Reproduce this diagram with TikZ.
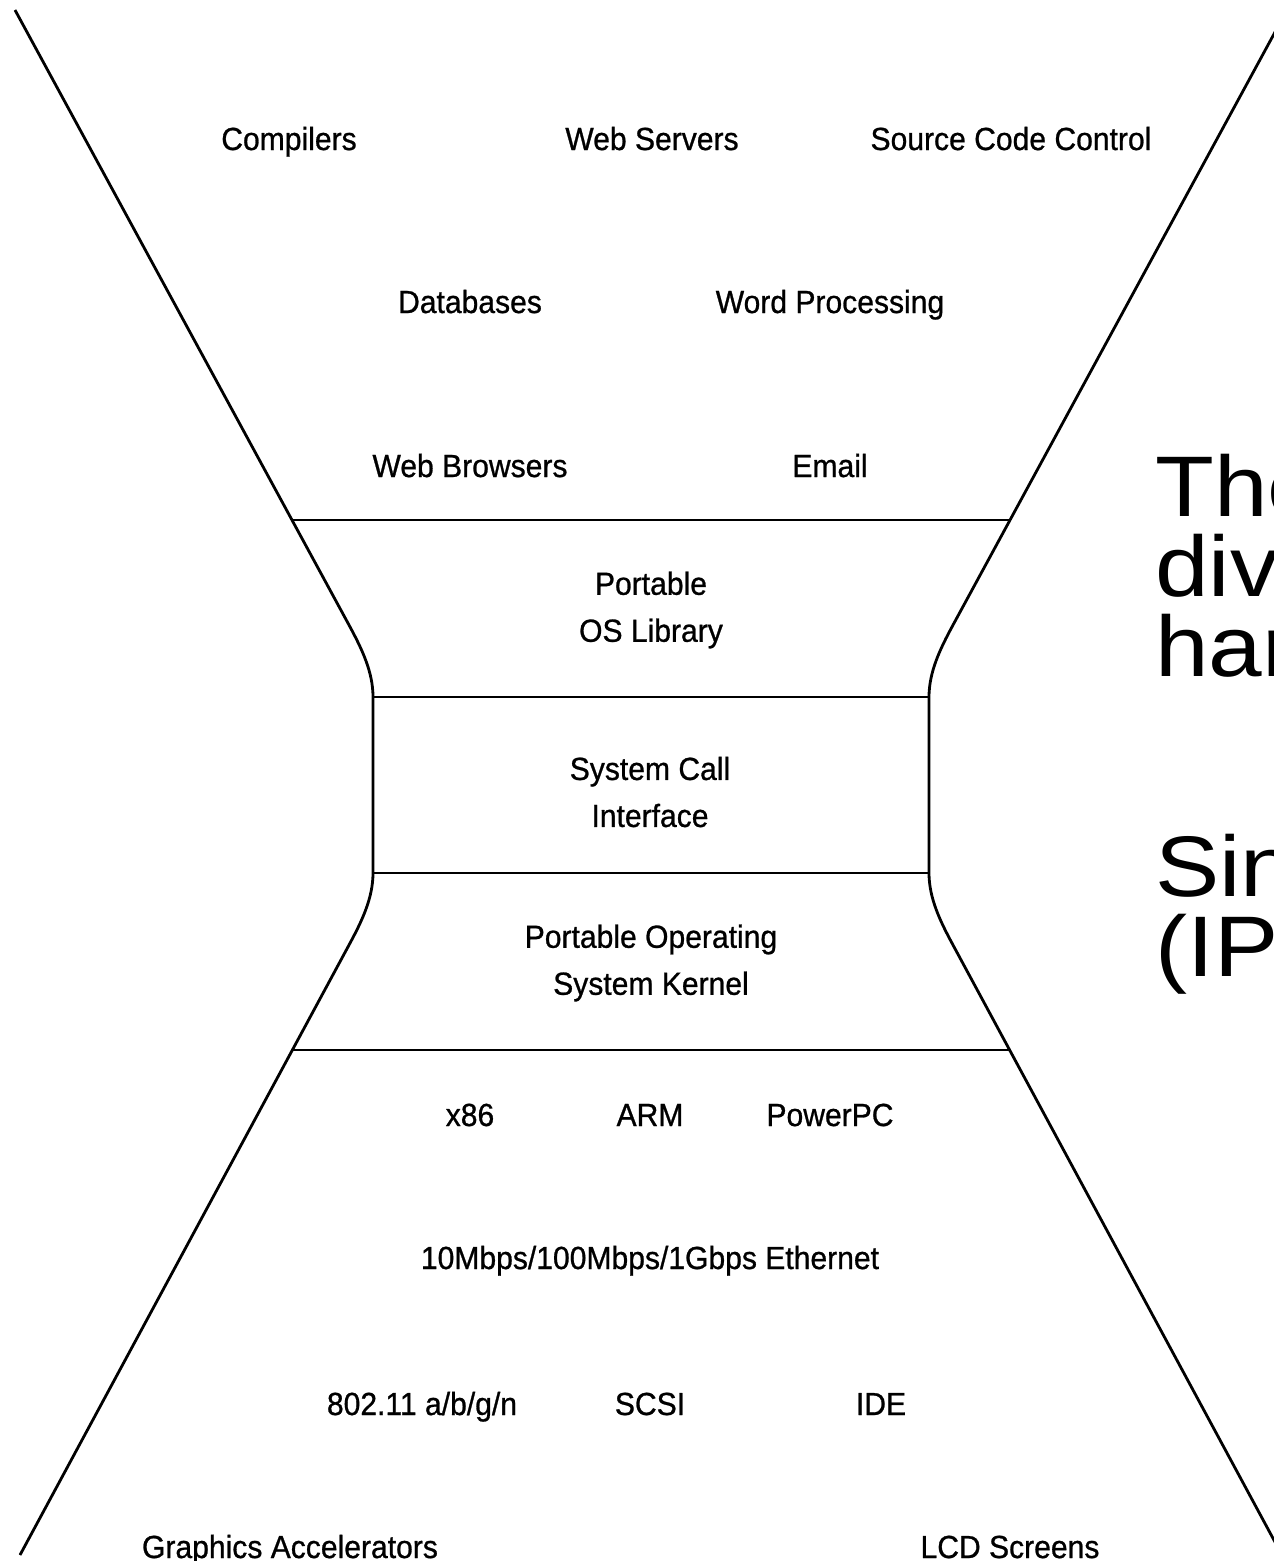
\documentclass[tikz,border=0pt]{standalone}
\usepackage{fontspec}
\setmainfont{Liberation Sans}
\newfontfamily\glassfont[FakeStretch=0.94,FakeBold=0.8]{Liberation Sans}
\newfontfamily\widefont[FakeStretch=1.12]{Liberation Sans}

\begin{document}
\begin{tikzpicture}[x=1pt,y=-1pt]
    % Picture size
    \newcommand{\picw}{1274}
    \newcommand{\pich}{1561}
    % Styles
    \tikzstyle{item}=[font=\glassfont\fontsize{32}{47}\selectfont, inner sep=0, anchor=base]
    \tikzstyle{stack}=[item, anchor=center, align=center]
    \tikzstyle{outline}=[line width=2.8pt, line join=round]
    \tikzstyle{divider}=[line width=2pt]
    \tikzstyle{bigtext}=[font=\widefont\fontsize{86}{80}\selectfont, anchor=base west,
      inner sep=0, text height=60pt, text depth=0pt]

    \useasboundingbox (0,0) rectangle (\picw,\pich);
    \clip (0,0) rectangle (\picw,\pich);

    % Left side of the glass
    \coordinate (L-top) at (15,10);
    \coordinate (L-upper) at (292,520);
    \coordinate (L-bend1) at (349,625);
    \coordinate (L-waist1) at (373,697);
    \coordinate (L-waist2) at (373,873);
    \coordinate (L-bend2) at (349,945);
    \coordinate (L-lower) at (292,1050);
    \coordinate (L-bottom) at (20,1555);
    % Right side of the glass
    \coordinate (R-top) at (1287,10);
    \coordinate (R-upper) at (1010,520);
    \coordinate (R-bend1) at (953,625);
    \coordinate (R-waist1) at (929,697);
    \coordinate (R-waist2) at (929,873);
    \coordinate (R-bend2) at (953,945);
    \coordinate (R-lower) at (1010,1050);
    \coordinate (R-bottom) at (1282,1555);

    % Outline
    \draw[outline] (L-top) -- (L-bend1)
      .. controls (362,649) and (373,672) .. (L-waist1) -- (L-waist2)
      .. controls (373,898) and (362,921) .. (L-bend2) -- (L-bottom);
    \draw[outline] (R-top) -- (R-bend1)
      .. controls (940,649) and (929,672) .. (R-waist1) -- (R-waist2)
      .. controls (929,898) and (940,921) .. (R-bend2) -- (R-bottom);

    % Layer lines
    \draw[divider] (L-upper) -- (R-upper);
    \draw[divider] (L-waist1) -- (R-waist1);
    \draw[divider] (L-waist2) -- (R-waist2);
    \draw[divider] (L-lower) -- (R-lower);

    % Applications
    \node[item] (compilers) at (289,150) {Compilers};
    \node[item] (webservers) at (652,150) {Web Servers};
    \node[item] (sourcecode) at (1011,150) {Source Code Control};
    \node[item] (databases) at (470,313) {Databases};
    \node[item] (wordproc) at (830,313) {Word Processing};
    \node[item] (browsers) at (470,477) {Web Browsers};
    \node[item] (email) at (830,477) {Email};

    % Waist
    \node[stack] (oslib) at (651,610) {Portable\\OS Library};
    \node[stack] (syscall) at (650,792) {System Call\\Interface};
    \node[stack] (kernel) at (651,963) {Portable Operating\\System Kernel};

    % Hardware
    \node[item] (x86) at (470,1126) {x86};
    \node[item] (arm) at (650,1126) {ARM};
    \node[item] (powerpc) at (830,1126) {PowerPC};
    \node[item] (ethernet) at (650,1269) {10Mbps/100Mbps/1Gbps Ethernet};
    \node[item] (wifi) at (422,1415) {802.11 a/b/g/n};
    \node[item] (scsi) at (650,1415) {SCSI};
    \node[item] (ide) at (881,1415) {IDE};
    \node[item] (graphics) at (290,1558) {Graphics Accelerators};
    \node[item] (lcd) at (1010,1558) {LCD Screens};

    % Text on the right
    \node[bigtext] (the) at (1155,516) {The};
    \node[bigtext] (div) at (1155,596) {div};
    \node[bigtext] (har) at (1155,676) {har};
    \node[bigtext] (sin) at (1155,896) {Sin};
    \node[bigtext] (ip) at (1155,976) {(IP)};
\end{tikzpicture}
\end{document}
